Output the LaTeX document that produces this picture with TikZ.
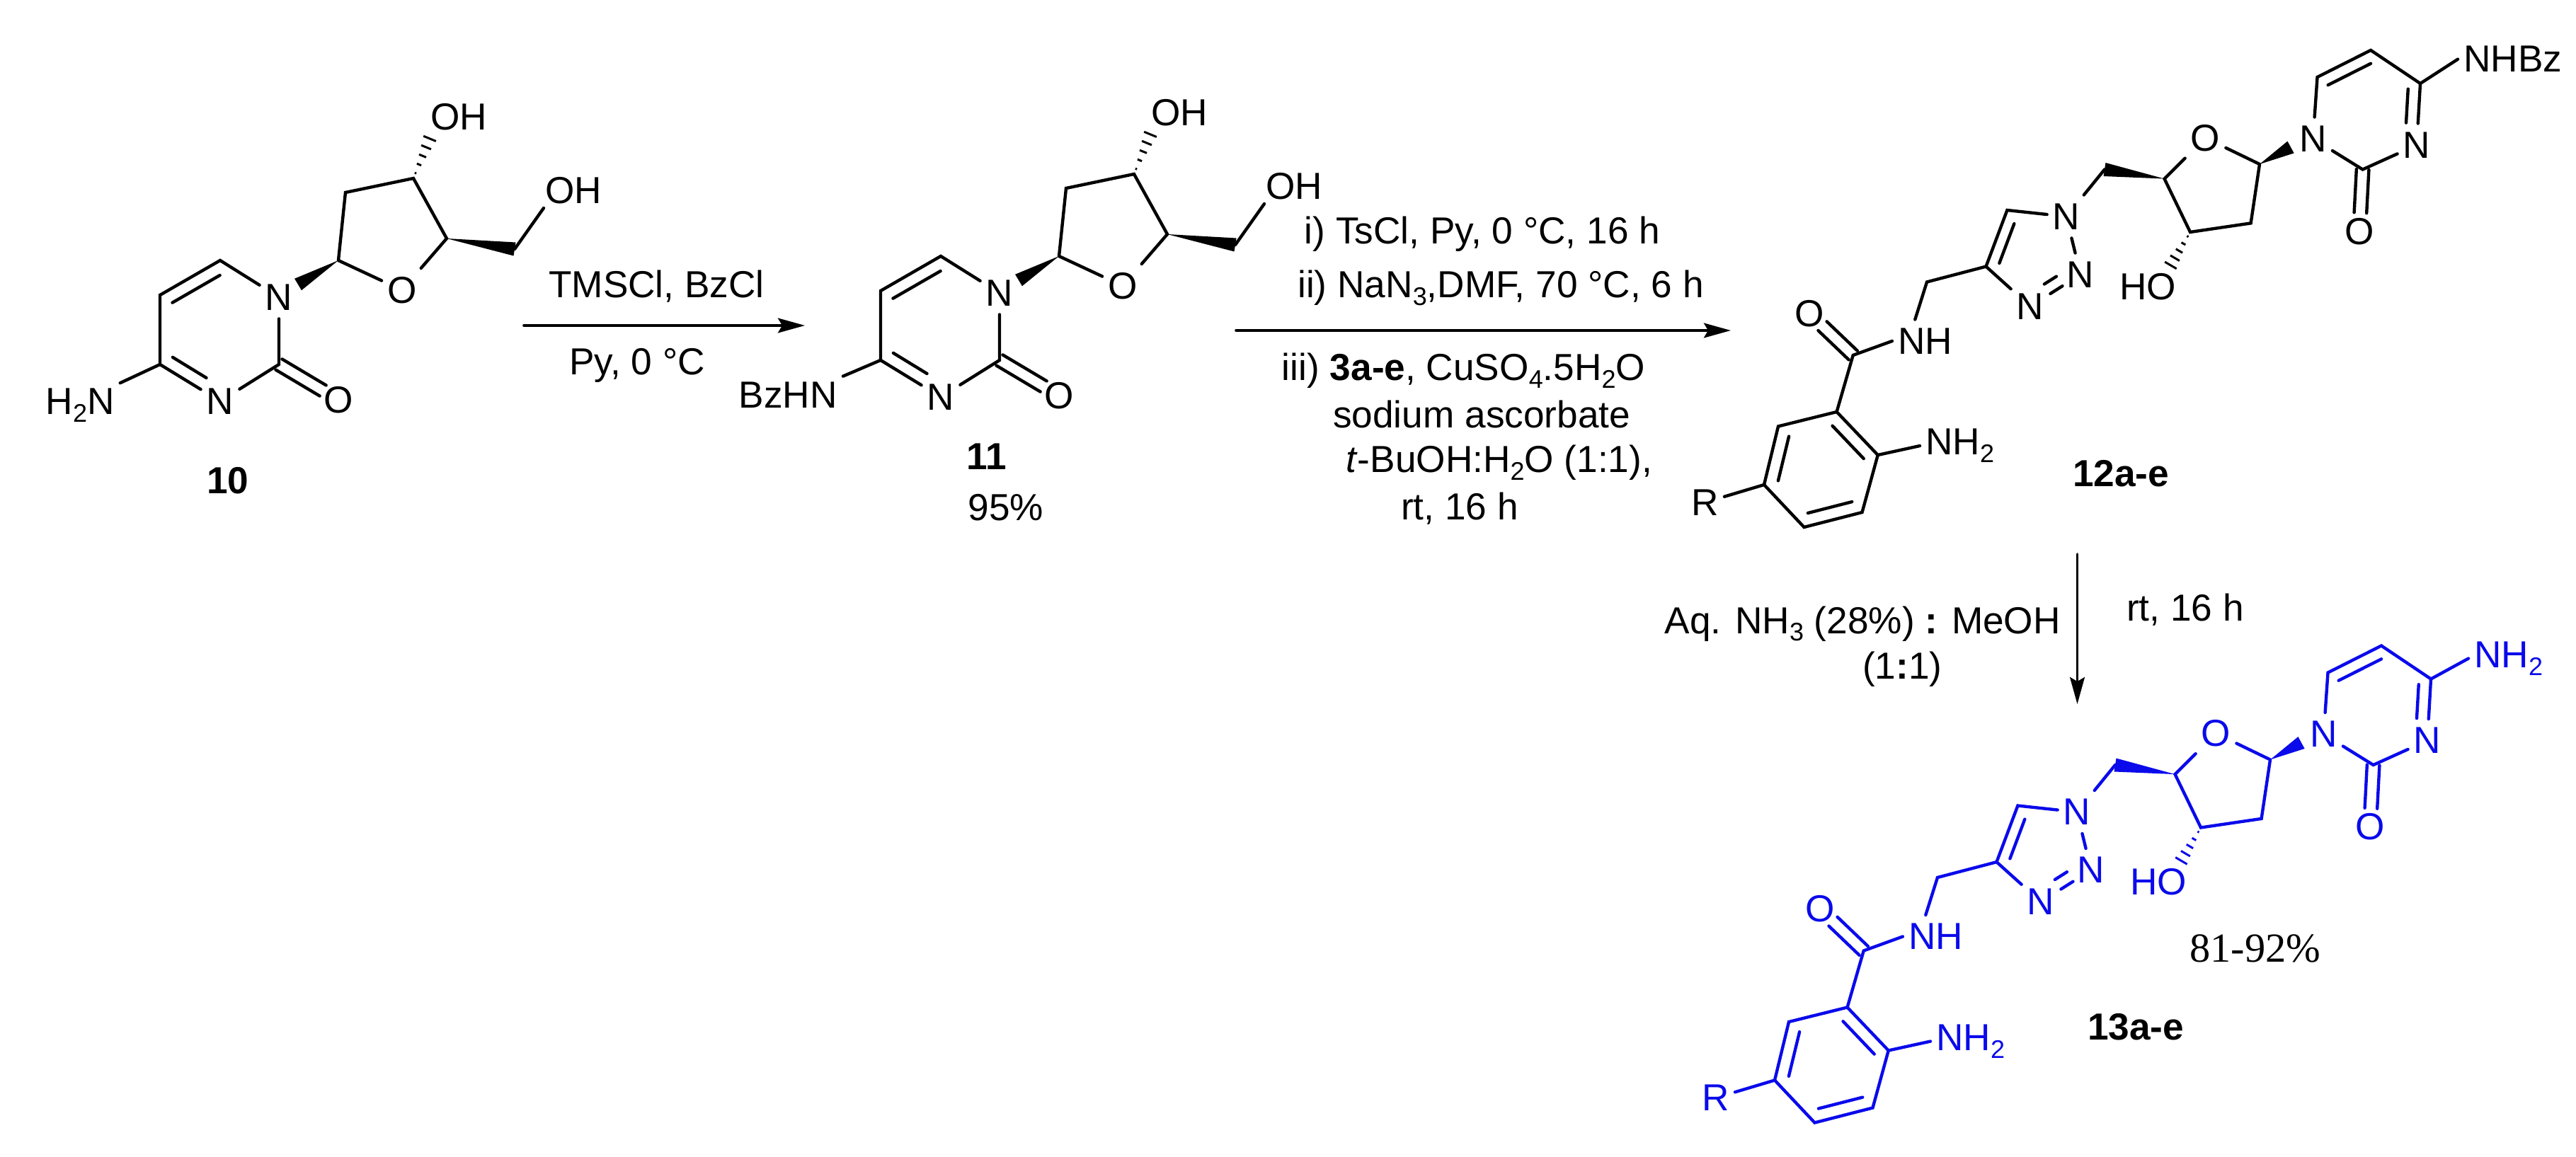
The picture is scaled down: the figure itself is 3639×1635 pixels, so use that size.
\documentclass[tikz,border=0pt]{standalone}
\usepackage{fontspec}
\setmainfont{Liberation Sans}
\newfontfamily\yieldfont{Liberation Serif}
\usetikzlibrary{arrows.meta,calc}
\definecolor{bondblue}{RGB}{10,10,235}
\newcommand{\lowsub}[1]{\raisebox{-.2em}{\fontsize{9}{9}\selectfont #1}}
% a,b,offset,from,to
\newcommand{\inbond}[5]{\draw ($(#1)!#4!(#2)!#3!90:(#2)$) -- ($(#1)!#5!(#2)!#3!-90:(#1)$);}
\newcommand{\wedgebond}[2]{\fill (#1) -- ($(#2)!2.4pt!90:(#1)$) -- ($(#2)!2.4pt!-90:(#1)$) -- cycle;}
\newcommand{\hashbond}[2]{\foreach \f in {.12,.32,.52,.72,.92}{
\pgfmathsetmacro\hw{\f*2.6}
\draw[line cap=butt,line width=.75pt] ($(#1)!\f!(#2)!\hw pt!90:(#2)$) -- ($(#1)!\f!(#2)!\hw pt!-90:(#2)$);}}
\tikzset{
every node/.style={font=\fontsize{13.3}{16}\selectfont},
atom/.style={inner xsep=1.5pt,inner ysep=2.5pt},
grp/.style={inner sep=1.5pt,anchor=base west},
txt/.style={inner sep=0pt,anchor=base west},
rxn/.style={-{Stealth[length=9.5pt,width=5.2pt,inset=1.5pt]},line width=.9pt}
}
\begin{document}
\begin{tikzpicture}[x=.25pt,y=-.25pt,line width=1.1pt,line cap=round]
\useasboundingbox (0,0) rectangle (3639,1635);
% compounds 10 and 11
\foreach \mol/\sx/\sy/\amine/\gx/\gy in {a/0/0/{H\lowsub{2}N}/56.5/586,b/1018/-6/{BzHN}/17.5/582.5}{
\begin{scope}[shift={(\sx,\sy)}]
\node[atom] (N1\mol) at (394,420) {N};
\node[atom] (N3\mol) at (311,567) {N};
\node[atom] (O2\mol) at (478,565) {O};
\node[atom] (Or\mol) at (568,410) {O};
\node[grp] (NX\mol) at (\gx,\gy) {\amine};
\node[grp] (OHc\mol) at (762,288) {OH};
\node[grp] (OHd\mol) at (600,184) {OH};
\coordinate (C2\mol) at (394,515);
\coordinate (C4\mol) at (226,515);
\coordinate (C5\mol) at (226,417);
\coordinate (C6\mol) at (311,368);
\coordinate (C1p\mol) at (478,368);
\coordinate (C2p\mol) at (488,272);
\coordinate (C3p\mol) at (584,252);
\coordinate (C4p\mol) at (631,337);
\coordinate (C5p\mol) at (727,352);
\coordinate (We\mol) at (421,402);
\coordinate (Ha\mol) at (609,191);
\coordinate (Oe\mol) at (768,294);
\draw (N1\mol) -- (C6\mol) -- (C5\mol) -- (C4\mol) -- (N3\mol) -- (C2\mol) -- (N1\mol);
\draw (C4\mol) -- (NX\mol.north east);
\draw (C1p\mol) -- (Or\mol) -- (C4p\mol) -- (C3p\mol) -- (C2p\mol) -- (C1p\mol);
\draw (C5p\mol) -- (Oe\mol);
\inbond{C5\mol}{C6\mol}{-4.5pt}{.1}{.89}
\inbond{C4\mol}{N3\mol}{4.5pt}{.1}{.66}
\inbond{C2\mol}{O2\mol}{2.2pt}{0}{.74}
\inbond{C2\mol}{O2\mol}{-2.2pt}{0}{.74}
\wedgebond{C1p\mol}{We\mol}
\wedgebond{C4p\mol}{C5p\mol}
\hashbond{C3p\mol}{Ha\mol}
\end{scope}
}
% compounds 12 and 13
\foreach \mol/\sx/\sy/\clr/\amine in {c/0/0/black/NHBz,d/15/841.5/bondblue/{NH\lowsub{2}}}{
\begin{scope}[shift={(\sx,\sy)},color=\clr]
\node[atom] (N1\mol) at (3267.5,196) {N};
\node[atom] (N3\mol) at (3414,205) {N};
\node[atom] (O2\mol) at (3333,327) {O};
\node[atom] (Or\mol) at (3115.5,195) {O};
\node[atom] (Na\mol) at (2919,306) {N};
\node[atom] (Nb\mol) at (2939,388) {N};
\node[atom] (Nc\mol) at (2868,433) {N};
\node[atom] (Oa\mol) at (2556,443) {O};
\node[atom] (R\mol) at (2408.5,710) {R};
\node[atom] (NH\mol) at (2719.5,482) {NH};
\node[grp] (NX\mol) at (3472,102) {\amine};
\node[grp] (NY\mol) at (2712,643) {NH\lowsub{2}};
\node[atom] (HO\mol) at (3034,405) {HO};
\coordinate (C2\mol) at (3337.6,239.5);
\coordinate (C4\mol) at (3419,118);
\coordinate (C5\mol) at (3349,71);
\coordinate (C6\mol) at (3273.5,109);
\coordinate (C1p\mol) at (3192,232);
\coordinate (C2p\mol) at (3179.6,315.4);
\coordinate (C3p\mol) at (3094,328);
\coordinate (C4p\mol) at (3057.5,252.6);
\coordinate (C5p\mol) at (2973,239.5);
\coordinate (We\mol) at (3236,208);
\coordinate (Ha\mol) at (3064,379);
\coordinate (Ta\mol) at (2835.4,297);
\coordinate (Tb\mol) at (2805.5,376.6);
\coordinate (Me\mol) at (2722,398.5);
\coordinate (Am\mol) at (2617.7,502);
\coordinate (Ar1\mol) at (2594.6,582);
\coordinate (Ar2\mol) at (2652.7,643);
\coordinate (Ar3\mol) at (2630.5,724);
\coordinate (Ar4\mol) at (2548.5,745);
\coordinate (Ar5\mol) at (2492,685);
\coordinate (Ar6\mol) at (2512,602.5);
\draw (N1\mol) -- (C6\mol) -- (C5\mol) -- (C4\mol) -- (N3\mol) -- (C2\mol) -- (N1\mol);
\draw (C4\mol) -- (NX\mol.west);
\draw (C1p\mol) -- (Or\mol) -- (C4p\mol) -- (C3p\mol) -- (C2p\mol) -- (C1p\mol);
\draw (C5p\mol) -- (Na\mol) -- (Ta\mol) -- (Tb\mol) -- (Nc\mol);
\draw (Na\mol) -- (Nb\mol);
\draw (Tb\mol) -- (Me\mol) -- (NH\mol.115);
\draw (NH\mol.west) -- (Am\mol) -- (Ar1\mol) -- (Ar2\mol) -- (Ar3\mol) -- (Ar4\mol) -- (Ar5\mol) -- (Ar6\mol) -- (Ar1\mol);
\draw (Ar2\mol) -- (NY\mol.west);
\draw (Ar5\mol) -- (R\mol);
\inbond{C6\mol}{C5\mol}{-4.2pt}{.1}{.9}
\inbond{C4\mol}{N3\mol}{-4.2pt}{.1}{.65}
\inbond{C2\mol}{O2\mol}{2.2pt}{0}{.7}
\inbond{C2\mol}{O2\mol}{-2.2pt}{0}{.7}
\inbond{Am\mol}{Oa\mol}{2.2pt}{0}{.7}
\inbond{Am\mol}{Oa\mol}{-2.2pt}{0}{.7}
\inbond{Ta\mol}{Tb\mol}{4pt}{.17}{.87}
\inbond{Nb\mol}{Nc\mol}{0pt}{.36}{.6}
\inbond{Nb\mol}{Nc\mol}{-4pt}{.36}{.6}
\inbond{Ar1\mol}{Ar2\mol}{-4.5pt}{.12}{.88}
\inbond{Ar3\mol}{Ar4\mol}{-4.5pt}{.12}{.88}
\inbond{Ar5\mol}{Ar6\mol}{-4.5pt}{.12}{.88}
\wedgebond{C1p\mol}{We\mol}
\wedgebond{C4p\mol}{C5p\mol}
\hashbond{C3p\mol}{Ha\mol}
\end{scope}
}
% compound labels
\node[font=\fontsize{13.3}{16}\selectfont\bfseries] (lbla) at (322,679) {10};
\node[font=\fontsize{13.3}{16}\selectfont\bfseries] (lblb) at (1393.5,645) {11};
\node (ylda) at (1421,717) {95\%};
\node[font=\fontsize{13.3}{16}\selectfont\bfseries] (lblc) at (2996,669) {12a-e};
\node[font=\fontsize{13.3}{16}\selectfont\bfseries] (lbld) at (3017,1451) {13a-e};
\node[font=\fontsize{14.6}{16}\selectfont\yieldfont] (yldb) at (3185.6,1340) {81-92\%};
% arrows
\coordinate (ArrAs) at (740,460);
\coordinate (ArrAe) at (1137,460);
\coordinate (ArrBs) at (1746,467);
\coordinate (ArrBe) at (2445,467);
\coordinate (ArrCs) at (2934.5,783);
\coordinate (ArrCe) at (2934.5,995);
\draw[rxn] (ArrAs) -- (ArrAe);
\draw[rxn] (ArrBs) -- (ArrBe);
\draw[rxn] (ArrCs) -- (ArrCe);
% conditions
\node[txt] (ta) at (773,421) {TMSCl, BzCl};
\node[txt] (tb) at (802,530) {Py, 0 °C};
\node[txt] (tc) at (1840.6,345) {i) TsCl, Py, 0 °C, 16 h};
\node[txt] (td) at (1831,421) {ii) NaN\lowsub{3},DMF, 70 °C, 6 h};
\node[txt] (te) at (1808.7,538) {iii) \textbf{3a-e}, CuSO\lowsub{4}.5H\lowsub{2}O};
\node[txt] (tf) at (1881,605) {sodium ascorbate};
\node[txt] (tg) at (1899,668) {\textit{t}-BuOH:H\lowsub{2}O (1:1),};
\node[txt] (th) at (1977,735) {rt, 16 h};
\node[txt] (ti) at (2349.5,895) {Aq. NH\lowsub{3} (28\%) \textbf{:} MeOH};
\node[txt] (tj) at (2629,959) {(1\textbf{:}1)};
\node[txt] (tk) at (3002,877) {rt, 16 h};
\end{tikzpicture}
\end{document}
